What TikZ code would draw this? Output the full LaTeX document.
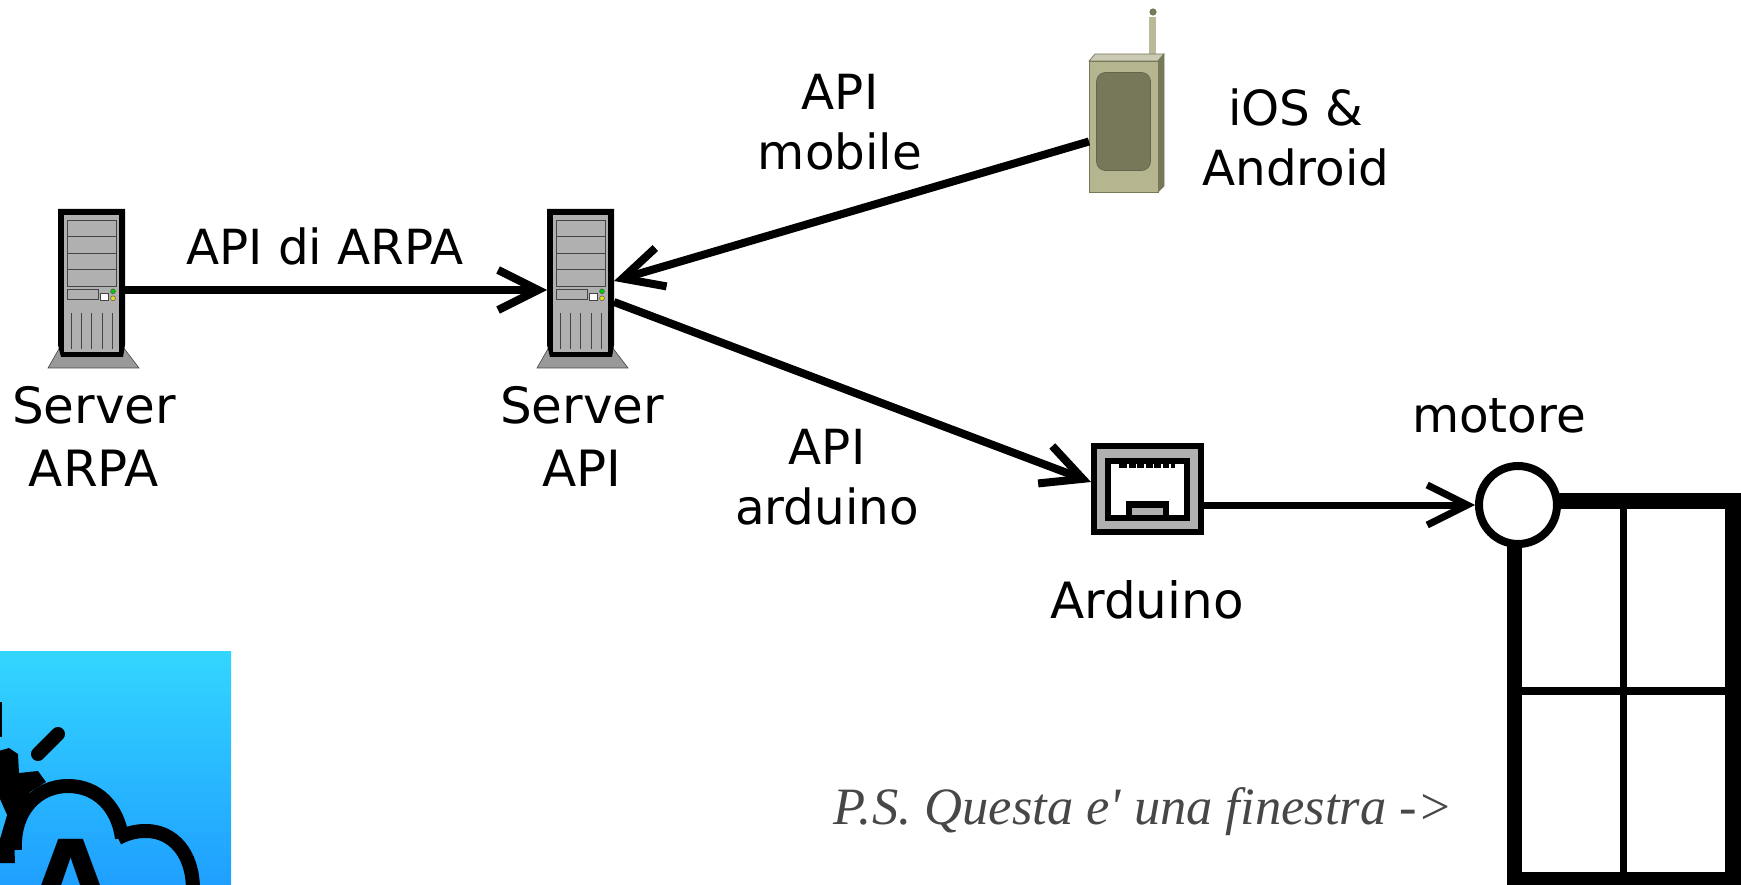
\documentclass[tikz,border=0pt]{standalone}
\usepackage{fontspec}
\setmainfont{DejaVu Sans}
\newfontfamily\handfont{Liberation Serif}
\newfontfamily\boldlogo{DejaVu Sans}
\usetikzlibrary{arrows.meta,shapes.geometric}
\definecolor{srvgrey}{HTML}{B0B0B0}
\definecolor{srvbase}{HTML}{999999}
\definecolor{srvline}{HTML}{444444}
\definecolor{phfront}{HTML}{B5B58F}
\definecolor{phtop}{HTML}{CBCBB5}
\definecolor{phdark}{HTML}{77775A}
\definecolor{phant}{HTML}{BABA98}
\definecolor{logotop}{HTML}{33D6FF}
\definecolor{logobot}{HTML}{1F9FFF}
\tikzset{
  x=1pt,y=-1pt,
  conn/.style={line width=8pt,-{Straight Barb[length=40pt,width=40pt,line width=8pt,sharp]}},
  connthin/.style={line width=7pt,-{Straight Barb[length=40pt,width=40pt,line width=7pt,sharp]}},
  lbl/.style={font=\fontsize{48.4}{60}\selectfont,align=center,inner sep=0pt,text=black},
  lblbig/.style={font=\fontsize{50}{63}\selectfont,align=center,inner sep=0pt,text=black},
  anchorbox/.style={inner sep=0pt,outer sep=0pt,minimum width=#1},
  pics/server/.style={code={
    \draw[fill=srvbase,draw=srvline,line width=0.6pt] (60,347)--(123,347)--(139,368)--(48,368)--cycle;
    \fill[black] (58,209)--(125,209)--(125,345)--(123,357)--(61,357)--(58,345)--cycle;
    \fill[srvgrey] (64,215) rectangle (119,352);
    \draw[srvline,line width=1pt] (67,221) rectangle (116,287);
    \draw[srvline,line width=1pt] (67,237)--(116,237) (67,253.5)--(116,253.5) (67,270)--(116,270);
    \draw[srvline,line width=1pt] (67,289.5) rectangle (98,300);
    \draw[fill=white,draw=srvline,line width=0.6pt] (100.7,293) rectangle (108.7,300);
    \draw[fill=green!80!black,draw=srvline,line width=0.4pt] (113,291.3) circle (2.4);
    \draw[fill=yellow!90!black,draw=srvline,line width=0.4pt] (113,298.3) circle (2.4);
    \draw[srvline,line width=1pt] (71,313)--(71,349) (81.3,313)--(81.3,349) (91.7,313)--(91.7,349) (102,313)--(102,349) (112.3,313)--(112.3,349);
  }}
}
\begin{document}
\begin{tikzpicture}
\useasboundingbox (0,0) rectangle (1741,885);
% servers
\pic at (0,0) {server};
\pic at (489,0) {server};
\node[anchorbox=67pt,minimum height=148pt] (s1) at (91.5,283) {};
\node[anchorbox=67pt,minimum height=148pt] (s2) at (580.5,283) {};
% phone
\fill[phant] (1149,17) rectangle (1156,54);
\fill[phdark] (1153,12) circle (3.6);
\draw[fill=phtop,draw=phdark,line width=0.7pt] (1089,61)--(1095,54)--(1164,54)--(1158,61)--cycle;
\draw[fill=phdark,draw=phdark,line width=0.7pt] (1158,61)--(1164,54)--(1164,186)--(1158,192)--cycle;
\draw[fill=phfront,draw=phdark,line width=0.7pt] (1089,61) rectangle (1158,192);
\draw[fill=phdark,draw=phdark!85!black,line width=0.7pt,rounded corners=9pt] (1096.5,72.5) rectangle (1150.5,170.5);
\node[anchorbox=69pt,minimum height=131pt] (ph) at (1123.5,126.5) {};
% arduino
\fill[black] (1091,443) rectangle (1204,535);
\fill[srvgrey] (1097,449) rectangle (1198,529);
\fill[black] (1105,458) rectangle (1190,521);
\fill[white] (1111,463.5) rectangle (1184,515);
\fill[black] (1119,463.5) rectangle (1175,468);
\foreach \tx in {1127,1135.5,1144,1152.5,1161,1169}{\fill[white] (\tx,464) rectangle (\tx+1.5,468);}
\fill[black] (1126,501) rectangle (1169,515);
\fill[srvgrey] (1132,507.5) rectangle (1163,515);
\node[anchorbox=113pt,minimum height=92pt] (ard) at (1147.5,489) {};
% window
\fill[black] (1507,493) rectangle (1741,885);
\fill[white] (1522,509) rectangle (1725,872);
\fill[black] (1620,509) rectangle (1627,872);
\fill[black] (1522,687) rectangle (1725,694.5);
\node[circle,draw=black,fill=white,line width=8pt,minimum size=78pt,inner sep=0pt] (motor) at (1518,505) {};
% logo
\begin{scope}
\clip (0,651) rectangle (231,885);
\shade[top color=logotop,bottom color=logobot] (0,651) rectangle (231,885);
\draw[black,line width=14pt,line cap=round] (58,734)--(38,754);
\fill[black] (-5,702) rectangle (2,737);
\fill[black] (-5,752)--(9,748)--(18,754)--(19,773)--(38,771)--(46,782)--(30,792)--(18,812)--(14,835)--(15,863)--(-5,863)--cycle;
\fill[logotop!45!logobot] (-1,797)--(7,815)--(-1,842)--cycle;
\draw[black,line width=14pt] (15,850) .. controls (13,810) and (38,786) .. (68,786) .. controls (98,786) and (118,808) .. (122,838);
\draw[black,line width=14pt] (118,838) .. controls (130,832) and (138,831) .. (146,831) .. controls (172,831) and (193,852) .. (193,890);
\node[anchor=base,font=\boldlogo\bfseries\fontsize{110}{110}\selectfont,inner sep=0pt,text=black] (logoA) at (71,919) {A};
\end{scope}
% connectors
\draw[conn] ([yshift=-7pt]s1.east) -- ([yshift=-7pt]s2.west);
\draw[conn] ([yshift=-15pt]ph.west) -- ([yshift=2pt]s2.east);
\draw[conn] ([yshift=-19pt]s2.east) -- ([yshift=7pt]ard.west);
\draw[connthin] ([yshift=-16pt]ard.east) -- (motor.west);
% labels
\node[lbl] (lb1) at (325,246.5) {API di ARPA};
\node[lblbig] (lb2) at (94,436) {Server\\ARPA};
\node[lblbig] (lb3) at (582,436) {Server\\API};
\node[lbl] (lb4) at (840,122) {API\\mobile};
\node[lbl] (lb5) at (1296,137.5) {iOS \&\\Android};
\node[lbl] (lb6) at (827,477) {API\\arduino};
\node[lblbig] (lb7) at (1147,600) {Arduino};
\node[lbl] (lb8) at (1499,416) {motore};
\node[font=\handfont\itshape\fontsize{52.5}{52}\selectfont,text=black!72,inner sep=0pt] (lb9) at (1143,812) {P.S. Questa e' una finestra ->};
\end{tikzpicture}
\end{document}
